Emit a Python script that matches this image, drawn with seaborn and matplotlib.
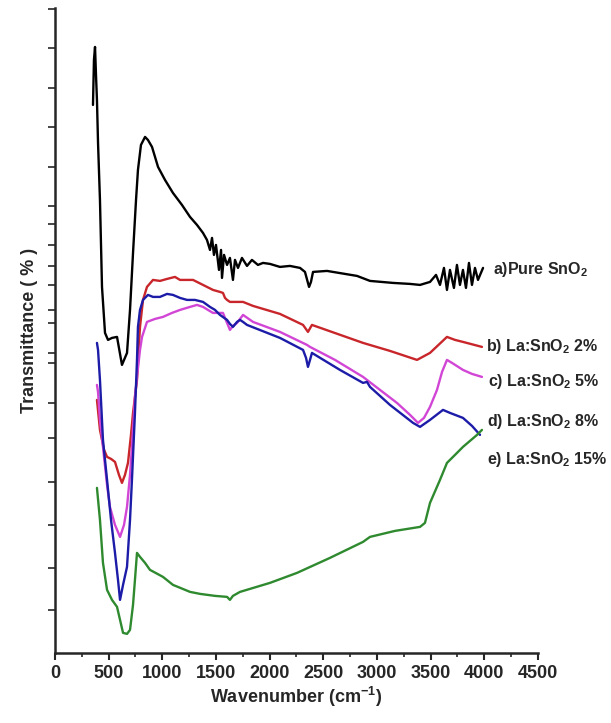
import numpy as np
import pandas as pd
import matplotlib
matplotlib.use('Agg')
import matplotlib.pyplot as plt
from matplotlib.ticker import MultipleLocator
import seaborn as sns

# FTIR spectra (wavenumber, transmittance in arbitrary units)
wn_a = [354, 363, 373, 382, 391, 401, 419, 438, 466, 494, 531, 578, 624, 671, 699, 727, 755, 773, 801, 839,
        866, 904, 960, 1025, 1099, 1183, 1258, 1323, 1379, 1416, 1444, 1463, 1481, 1500, 1528, 1547, 1556, 1575,
        1603, 1630, 1658, 1677, 1705, 1742, 1789, 1835, 1891, 1938, 2003, 2096, 2189, 2283, 2329, 2367, 2385,
        2404, 2534, 2702, 2814, 2935, 3149, 3308, 3401, 3494, 3550, 3587, 3624, 3652, 3680, 3717, 3745, 3773,
        3801, 3829, 3857, 3885, 3913, 3941, 3988]
t_a = [548, 593, 606, 578, 553, 510, 453, 366, 320, 313, 315, 316, 288, 300, 343, 400, 453, 483, 508, 516,
       513, 506, 486, 473, 460, 448, 436, 428, 420, 413, 403, 415, 398, 408, 383, 403, 375, 398,
       388, 395, 373, 393, 385, 395, 387, 393, 388, 390, 389, 386, 387, 385, 381, 366, 371,
       381, 382, 379, 377, 372, 370, 369, 368, 371, 378, 368, 385, 363, 383, 365, 388, 368,
       383, 365, 390, 368, 385, 373, 385]

wn_b = [391, 419, 457, 485, 522, 559, 596, 624, 652, 680, 708, 727, 764, 792, 820, 857, 913, 978, 1044, 1118,
        1165, 1286, 1379, 1472, 1537, 1565, 1584, 1603, 1630, 1752, 1845, 2096, 2311, 2357, 2394, 2870, 3121,
        3373, 3494, 3652, 3727, 3801, 3978]
t_b = [253, 223, 203, 196, 194, 191, 178, 170, 178, 190, 218, 240, 273, 326, 353, 366, 373, 372, 374, 376,
       373, 373, 368, 363, 361, 360, 355, 353, 351, 351, 347, 339, 328, 321, 328, 310, 302,
       293, 300, 316, 313, 311, 306]

wn_c = [391, 401, 419, 447, 485, 512, 559, 606, 643, 671, 699, 717, 745, 764, 792, 811, 857, 932, 1006, 1090,
        1165, 1258, 1323, 1379, 1425, 1472, 1565, 1603, 1630, 1658, 1696, 1752, 1845, 2096, 2348, 2376, 2609,
        2870, 3028, 3186, 3308, 3382, 3438, 3494, 3559, 3606, 3652, 3699, 3801, 3885, 3978]
t_c = [268, 261, 233, 206, 168, 146, 128, 116, 128, 146, 178, 206, 256, 276, 303, 316, 331, 334, 336, 340,
       343, 346, 348, 346, 343, 340, 340, 330, 323, 327, 330, 338, 331, 321, 308, 306, 293,
       276, 263, 250, 238, 230, 235, 246, 263, 281, 293, 290, 283, 279, 276]

wn_d = [391, 401, 419, 447, 485, 522, 559, 587, 606, 634, 671, 699, 717, 745, 764, 773, 792, 820, 866, 913,
        978, 1044, 1099, 1165, 1230, 1304, 1379, 1444, 1491, 1537, 1603, 1630, 1658, 1696, 1724, 1752, 1789,
        2096, 2311, 2339, 2357, 2376, 2394, 2655, 2870, 2907, 2935, 3121, 3336, 3401, 3494, 3615, 3680, 3801,
        3885, 3960]
t_d = [310, 303, 273, 213, 173, 133, 100, 73, 53, 68, 86, 133, 173, 240, 293, 326, 343, 353, 358, 356,
       356, 359, 358, 355, 353, 353, 351, 346, 343, 338, 333, 329, 326, 331, 333, 331, 328,
       315, 303, 295, 286, 293, 300, 283, 270, 271, 266, 248, 230, 226, 233, 243, 240, 235,
       227, 218]

wn_e = [391, 419, 447, 485, 531, 578, 606, 634, 671, 699, 727, 745, 764, 792, 839, 885, 1006, 1099, 1258, 1351,
        1491, 1603, 1630, 1658, 1724, 2003, 2255, 2562, 2870, 2935, 3168, 3401, 3447, 3494, 3587, 3652, 3727,
        3801, 3932, 3978]
t_e = [165, 133, 90, 63, 53, 46, 33, 20, 19, 23, 48, 73, 100, 96, 90, 83, 76, 68, 61, 59,
       57, 56, 53, 57, 61, 70, 80, 95, 111, 116, 122, 126, 130, 150, 173, 190, 198,
       206, 218, 223]

labels = ['a)Pure SnO$_2$', 'b) La:SnO$_2$ 2%', 'c) La:SnO$_2$ 5%', 'd) La:SnO$_2$ 8%', 'e) La:SnO$_2$ 15%']
label_x = [4080, 4020, 4030, 4025, 4025]
label_y = [383, 306, 271, 231, 193]
colors = ['black', '#c8262a', '#d246d6', '#1c1ca8', '#2f8a2f']
# irregular unlabeled y ticks as in the original
y_ticks = [644, 605, 565, 526, 486, 447, 429, 408, 387, 368, 343, 330, 300, 290, 250, 215, 171, 128, 85, 43]

sns.set_style('ticks')
plt.rcParams['font.family'] = ['Liberation Sans', 'DejaVu Sans']
plt.rcParams['mathtext.fontset'] = 'custom'
plt.rcParams['mathtext.rm'] = 'Liberation Sans:bold'
plt.rcParams['mathtext.default'] = 'rm'

fig = plt.figure(figsize=(6.11, 7.23), dpi=100)
ax = fig.add_axes([0.09, 0.097, 0.7905, 0.892])

series = [(wn_a, t_a), (wn_b, t_b), (wn_c, t_c), (wn_d, t_d), (wn_e, t_e)]
for (x, y), c, lab, lx, ly in zip(series, colors, labels, label_x, label_y):
    df = pd.DataFrame({'wn': x, 't': y})
    sns.lineplot(data=df, x='wn', y='t', color=c, lw=1.7, sort=False, estimator=None, ax=ax)
    ax.text(lx, ly, lab, fontsize=11.5, fontweight='bold', va='center', ha='left', clip_on=False)

ax.set_xlim(0, 4500)
ax.set_ylim(0, 645)
ax.xaxis.set_major_locator(MultipleLocator(500))
ax.xaxis.set_minor_locator(MultipleLocator(250))
ax.set_yticks(y_ticks)
ax.set_yticklabels([])
ax.tick_params(axis='x', which='major', direction='out', length=5, width=1.5, labelsize=13)
ax.tick_params(axis='x', which='minor', direction='out', length=3, width=1.2)
ax.tick_params(axis='y', direction='out', length=5, width=1.2)
for t in ax.get_xticklabels():
    t.set_fontweight('bold')
for s in ['left', 'bottom']:
    ax.spines[s].set_linewidth(1.8)
sns.despine(ax=ax)

ax.set_xlabel('Wavenumber (cm$^{-1}$)', fontsize=13, fontweight='bold', labelpad=2)
ax.set_ylabel('Transmittance ( % )', fontsize=13, fontweight='bold', labelpad=4)

fig.savefig('out.png', dpi=100)
